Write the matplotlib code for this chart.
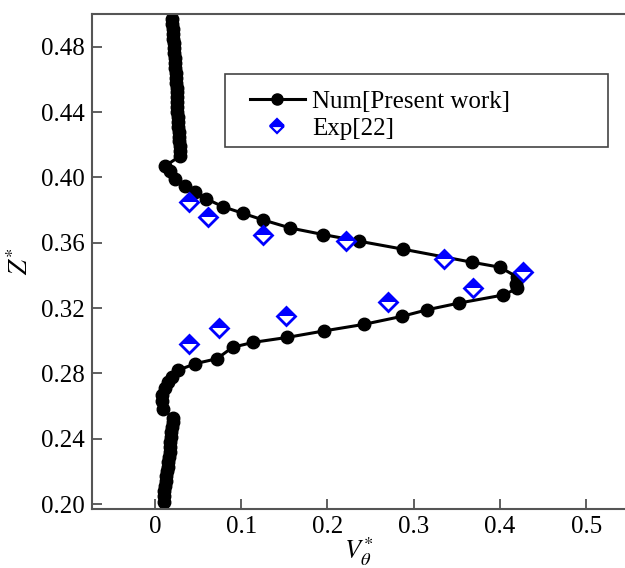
import matplotlib
matplotlib.use("Agg")
import matplotlib.pyplot as plt
from matplotlib.patches import Rectangle
from matplotlib.lines import Line2D

# Numerical profile (V_theta*, Z*)
num_v = [0.020, 0.020, 0.021, 0.021, 0.021, 0.022, 0.022, 0.022, 0.023, 0.023,
         0.023, 0.024, 0.024, 0.024, 0.025, 0.025, 0.025, 0.026, 0.026, 0.026,
         0.027, 0.027, 0.027, 0.028, 0.028, 0.028, 0.029, 0.029, 0.029,
         0.012, 0.017, 0.023, 0.035, 0.046, 0.059, 0.079, 0.102, 0.125,
         0.157, 0.195, 0.236, 0.288, 0.368, 0.400, 0.420, 0.419, 0.420,
         0.404, 0.352, 0.316, 0.287, 0.242, 0.196, 0.153, 0.114, 0.090,
         0.072, 0.047, 0.027, 0.020, 0.015, 0.012, 0.008, 0.008, 0.009,
         0.021, 0.021, 0.020, 0.019, 0.019, 0.018, 0.017, 0.017, 0.016,
         0.015, 0.015, 0.014, 0.013, 0.013, 0.012, 0.011, 0.011, 0.010]
num_z = [0.497, 0.494, 0.491, 0.488, 0.485, 0.482, 0.479, 0.476, 0.473, 0.470,
         0.467, 0.464, 0.461, 0.458, 0.455, 0.452, 0.449, 0.446, 0.443, 0.440,
         0.437, 0.434, 0.431, 0.428, 0.425, 0.422, 0.419, 0.416, 0.413,
         0.407, 0.404, 0.399, 0.395, 0.391, 0.387, 0.382, 0.378, 0.374,
         0.369, 0.365, 0.361, 0.356, 0.348, 0.345, 0.339, 0.335, 0.332,
         0.328, 0.323, 0.319, 0.315, 0.310, 0.306, 0.302, 0.299, 0.296,
         0.289, 0.286, 0.282, 0.278, 0.275, 0.271, 0.267, 0.263, 0.258,
         0.253, 0.250, 0.247, 0.244, 0.241, 0.238, 0.235, 0.232, 0.229,
         0.226, 0.223, 0.220, 0.217, 0.214, 0.211, 0.208, 0.205, 0.201]

# Experimental data [22]
exp_v = [0.039, 0.061, 0.125, 0.222, 0.335, 0.427, 0.369, 0.270, 0.152, 0.074, 0.039]
exp_z = [0.385, 0.376, 0.365, 0.361, 0.350, 0.342, 0.332, 0.324, 0.315, 0.308, 0.298]

xticks = [0, 0.1, 0.2, 0.3, 0.4, 0.5]
xticklabels = ["0", "0.1", "0.2", "0.3", "0.4", "0.5"]
yticks = [0.20, 0.24, 0.28, 0.32, 0.36, 0.40, 0.44, 0.48]

BLUE = "#0000ff"

plt.rcParams["font.family"] = "Liberation Serif"
plt.rcParams["mathtext.fontset"] = "stix"

fig = plt.figure(figsize=(6.25, 5.68), dpi=100)
ax = fig.add_axes([92 / 625, 1 - 509 / 568, 533 / 625, 495 / 568])

ax.plot(num_v, num_z, "-o", color="black", lw=2.2, markersize=9, zorder=2)

# half-filled diamonds: white body with blue edge, blue top half on top
ax.plot(exp_v, exp_z, "D", linestyle="none", markersize=9.5,
        markerfacecolor="white", markeredgecolor=BLUE, markeredgewidth=2, zorder=3)
ax.plot(exp_v, exp_z, "D", linestyle="none", markersize=9.5, fillstyle="top",
        markerfacecolor=BLUE, markerfacecoloralt="none",
        markeredgewidth=0, zorder=3)

ax.set_xlim(-0.073, 0.545)
ax.set_ylim(0.197, 0.5)
ax.set_xticks(xticks)
ax.set_xticklabels(xticklabels)
ax.set_yticks(yticks)
ax.set_yticklabels([f"{v:.2f}" for v in yticks])
ax.tick_params(direction="in", length=7, width=1.2, colors="#444444",
               labelcolor="black", labelsize=18, pad=5)
ax.spines["right"].set_visible(False)
for s in ["left", "top", "bottom"]:
    ax.spines[s].set_color("#555555")
    ax.spines[s].set_linewidth(1.5)

ax.set_xlabel(r"$V_{\theta}^{*}$", fontsize=19, labelpad=-2)
ax.set_ylabel(r"$Z^{*}$", fontsize=19, labelpad=6)

# legend box drawn separately (wider than its content in the original)
ax.add_patch(Rectangle((0.2495, 0.731), 0.7185, 0.148, transform=ax.transAxes,
                       fill=True, facecolor="white", edgecolor="#444444",
                       lw=1.2, zorder=4))
h_num = Line2D([], [], color="black", lw=2.2, marker="o", markersize=8)
h_exp = Line2D([], [], linestyle="none", marker="D", markersize=7.5,
               fillstyle="top", markerfacecolor=BLUE, markerfacecoloralt="white",
               markeredgecolor=BLUE, markeredgewidth=1.6)
leg = ax.legend([h_num, h_exp], ["Num[Present work]", "Exp[22]"],
                loc="upper left", bbox_to_anchor=(0.296, 0.846), fontsize=18,
                frameon=False, borderpad=0, handlelength=2.2, labelspacing=0.2,
                borderaxespad=0, handletextpad=0.3)
leg.set_zorder(5)

fig.savefig("out.png", dpi=100)
